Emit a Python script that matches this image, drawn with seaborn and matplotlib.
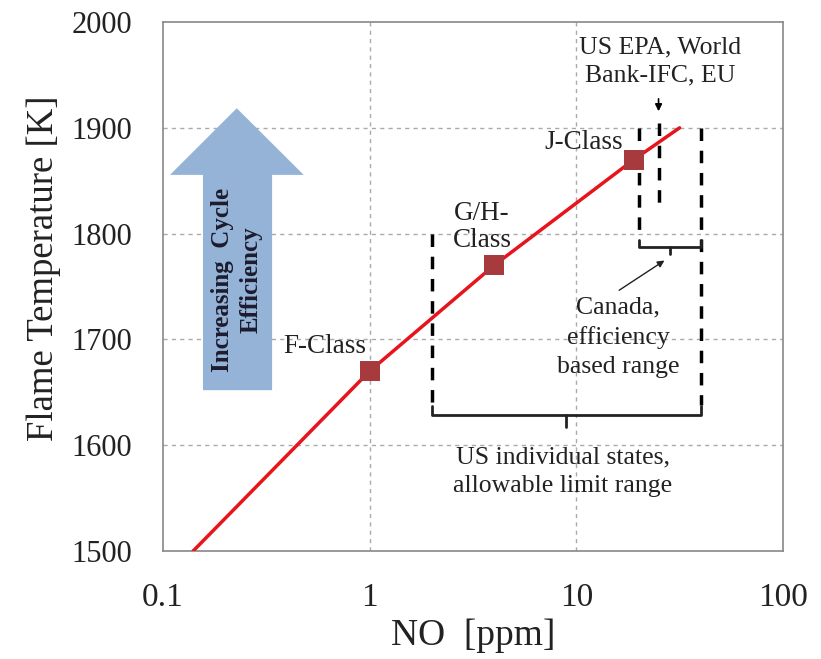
import numpy as np
import pandas as pd
import seaborn as sns
import matplotlib
matplotlib.use("Agg")
import matplotlib.pyplot as plt
from matplotlib.patches import Polygon

# ---- data ----
line_no = [0.14, 1.0, 4.0, 19.0, 31.6]
line_temp = [1500, 1670, 1770, 1870, 1900]

class_names = ["F-Class", "G/H-\nClass", "J-Class"]
class_no = [1.0, 4.0, 19.0]
class_temp = [1670, 1770, 1870]

us_states_range = [2.0, 40.0]
canada_range = [20.0, 40.0]
us_epa_no = 25.0

x_ticks = [0.1, 1, 10, 100]
x_tick_labels = ["0.1", "1", "10", "100"]
y_ticks = [1500, 1600, 1700, 1800, 1900, 2000]

sns.set_theme(style="white")
plt.rcParams['font.family'] = ['Liberation Serif', 'DejaVu Serif']

fig = plt.figure(figsize=(8.21, 6.59), dpi=100)
ax = fig.add_axes([0.1985, 0.1639, 0.7552, 0.8027])
ax.set_xscale('log')
ax.set_xlim(0.1, 100)
ax.set_ylim(1500, 2000)

# grid
for yv in y_ticks[1:-1]:
    ax.axhline(yv, color='#aaaaaa', lw=1.0, ls=(0, (3, 3)), zorder=0)
for xv in x_ticks[1:-1]:
    ax.axvline(xv, color='#aaaaaa', lw=1.0, ls=(0, (3, 3)), zorder=0)

df_line = pd.DataFrame({"NO": line_no, "T": line_temp})
sns.lineplot(data=df_line, x="NO", y="T", ax=ax, color='#e8141b', lw=2.5,
             sort=True, zorder=3)
df_cls = pd.DataFrame({"NO": class_no, "T": class_temp, "name": class_names})
sns.scatterplot(data=df_cls, x="NO", y="T", ax=ax, marker='s', s=215,
                color='#a63a3c', edgecolor='#a63a3c', linewidth=0, zorder=4)

# class labels
lab_font = dict(fontsize=19.5, color='#222222')
ax.text(0.61, 1693, class_names[0], ha='center', va='center', **lab_font)
ax.text(3.5, 1806, class_names[1], ha='center', va='center', linespacing=1.12, **lab_font)
ax.text(10.9, 1886, class_names[2], ha='center', va='center', **lab_font)

# dashed regulatory lines
dash = dict(color='black', lw=2.5, ls=(0, (3.6, 2.8)), zorder=2)
ax.plot([us_states_range[0]] * 2, [1800, 1638], **dash)
ax.plot([us_states_range[1]] * 2, [1900, 1638], **dash)
ax.plot([canada_range[0]] * 2, [1900, 1796], **dash)
ax.plot([us_epa_no] * 2, [1905, 1829], **dash)

# brackets
br = dict(color='#222222', lw=2.0, zorder=2)
ax.plot([us_states_range[0], us_states_range[0], us_states_range[1], us_states_range[1]],
        [1637, 1629, 1629, 1637], **br)
mid_us = np.sqrt(us_states_range[0] * us_states_range[1])
ax.plot([mid_us, mid_us], [1629, 1617], **br)
ax.plot([canada_range[0], canada_range[0], canada_range[1], canada_range[1]],
        [1794, 1787, 1787, 1794], **br)
mid_ca = np.sqrt(canada_range[0] * canada_range[1])
ax.plot([mid_ca, mid_ca], [1787, 1781], **br)

# arrows
ax.annotate('', xy=(us_epa_no, 1913), xytext=(us_epa_no, 1930),
            arrowprops=dict(arrowstyle='-|>', color='black', lw=1.2, mutation_scale=10))
ax.annotate('', xy=(27.4, 1776), xytext=(15.7, 1745),
            arrowprops=dict(arrowstyle='-|>', color='#222222', lw=1.0, mutation_scale=10))

ann_font = dict(fontsize=18.5, color='#222222', ha='center', va='center')
ax.text(25.5, 1963, "US EPA, World\nBank-IFC, EU", linespacing=1.35, **ann_font)
ax.text(15.9, 1702, "Canada,\nefficiency\nbased range", linespacing=1.4, **ann_font)
ax.text(8.6, 1575, "US individual states,\nallowable limit range", linespacing=1.4, **ann_font)

# big blue arrow (axes coords)
arrow_pts = [(0.0645, 0.304), (0.176, 0.304), (0.176, 0.711), (0.227, 0.711),
             (0.119, 0.837), (0.0113, 0.711), (0.0645, 0.711)]
ax.add_patch(Polygon(arrow_pts, closed=True, transform=ax.transAxes,
                     facecolor='#95b3d7', edgecolor='none', zorder=1))
ax.text(0.119, 0.512, "Increasing  Cycle\nEfficiency", transform=ax.transAxes,
        rotation=90, ha='center', va='center', fontsize=18, fontweight='bold',
        color='#1c1c2e', linespacing=1.3, zorder=5)

# axes styling
ax.set_xticks(x_ticks)
ax.set_xticklabels(x_tick_labels)
ax.xaxis.set_minor_locator(matplotlib.ticker.NullLocator())
ax.set_yticks(y_ticks)
ax.tick_params(axis='both', length=0, colors='#222222')
ax.tick_params(axis='x', pad=23, labelsize=24)
ax.tick_params(axis='y', pad=22, labelsize=22)
for s in ax.spines.values():
    s.set_color('#888888')
    s.set_linewidth(1.2)
ax.set_xlabel("NO  [ppm]", fontsize=27, color='#222222')
ax.set_ylabel("Flame Temperature [K]", fontsize=26.5, color='#222222')
ax.xaxis.set_label_coords(0.5, -0.127)
ax.yaxis.set_label_coords(-0.164, 0.535)

fig.savefig("out.png", dpi=100)
